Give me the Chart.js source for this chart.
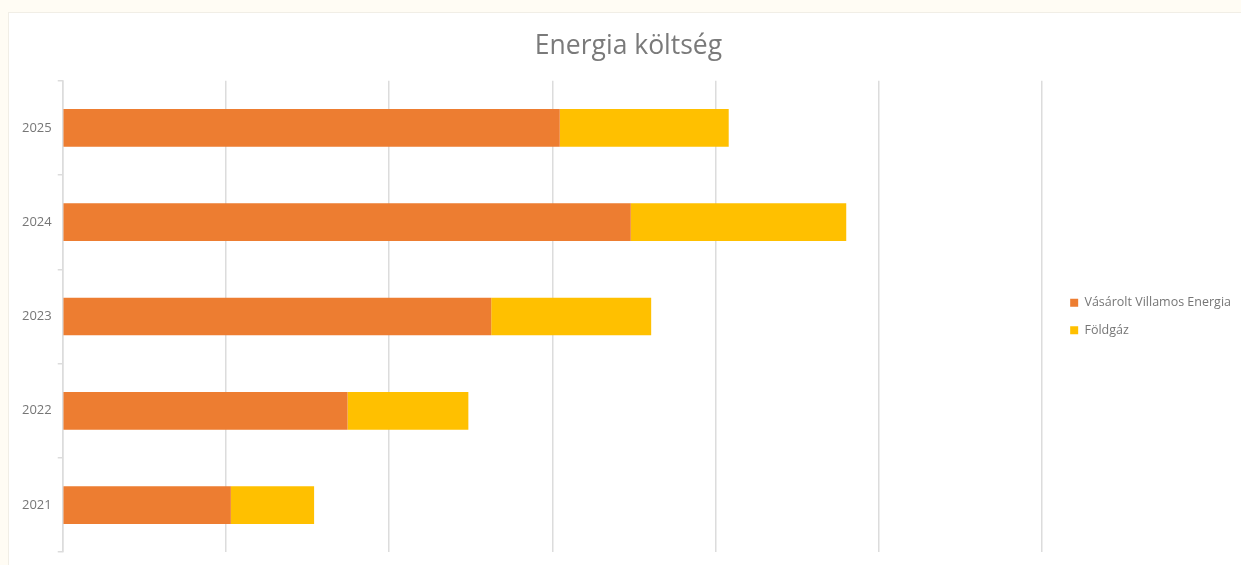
<!DOCTYPE html>
<html>
<head>
<meta charset="utf-8">
<script src="https://cdn.jsdelivr.net/npm/chart.js@4.4.1/dist/chart.umd.min.js"></script>
<style>
  html, body { margin: 0; padding: 0; background: #fffcf4; overflow: hidden; }
  .card {
    position: absolute; left: 8px; top: 12px;
    width: 1250px; height: 570px;
    background: #ffffff; border: 1px solid #f1eee6; box-sizing: border-box;
  }
  .card canvas { position: absolute; left: 0; top: 0; }
</style>
</head>
<body>
<div class="card"><canvas id="chart-energy" width="1242" height="553"></canvas></div>
<script>
// values in millió Ft (axis labels are not shown in the source)
const years = ['2025', '2024', '2023', '2022', '2021'];
const villamosEnergia = [60.9, 69.6, 52.5, 34.9, 20.6];
const foldgaz = [20.7, 26.4, 19.6, 14.8, 10.2];
const seriesNames = ['Vásárolt Villamos Energia', 'Földgáz'];
const seriesColors = ['#ED7D31', '#FFC000'];
const xStep = 20;

const labelColor = '#767676';
const gridColor = '#dcdcdc';

function renderEnergyChart() {
  const canvas = document.getElementById('chart-energy');
  if (!canvas) return;

  new Chart(canvas, {
    type: 'bar',
    data: {
      labels: years,
      datasets: [
        {
          label: seriesNames[0],
          data: villamosEnergia,
          backgroundColor: seriesColors[0],
          borderWidth: 0,
          barPercentage: 0.4,
          categoryPercentage: 1
        },
        {
          label: seriesNames[1],
          data: foldgaz,
          backgroundColor: seriesColors[1],
          borderWidth: 0,
          barPercentage: 0.4,
          categoryPercentage: 1
        }
      ]
    },
    options: {
      indexAxis: 'y',
      responsive: false,
      animation: false,
      layout: { padding: { left: 7, right: 10, top: 0, bottom: 13 } },
      scales: {
        x: {
          stacked: true,
          min: 0,
          // a bit of empty room after the last gridline, before the legend
          max: 121.6,
          ticks: { display: false, stepSize: xStep, includeBounds: false },
          border: { display: false },
          grid: { color: gridColor, lineWidth: 1.5, drawTicks: false }
        },
        y: {
          stacked: true,
          ticks: {
            color: labelColor,
            padding: 6,
            font: { family: '"Open Sans", sans-serif', size: 13 }
          },
          border: { color: gridColor, width: 1.5 },
          grid: { drawOnChartArea: false, drawTicks: true, tickLength: 5, color: gridColor, lineWidth: 1.5 }
        }
      },
      plugins: {
        title: {
          display: true,
          text: 'Energia költség',
          color: '#7a7a7a',
          font: { family: '"Open Sans", sans-serif', size: 26.5, weight: 'normal' },
          padding: { top: 18, bottom: 18 }
        },
        legend: {
          position: 'right',
          fullSize: false,
          labels: {
            color: labelColor,
            boxWidth: 8,
            boxHeight: 8,
            padding: 15,
            font: { family: '"Open Sans", sans-serif', size: 12.5 }
          }
        },
        tooltip: { enabled: false }
      }
    }
  });
}

renderEnergyChart();
</script>
</body>
</html>
